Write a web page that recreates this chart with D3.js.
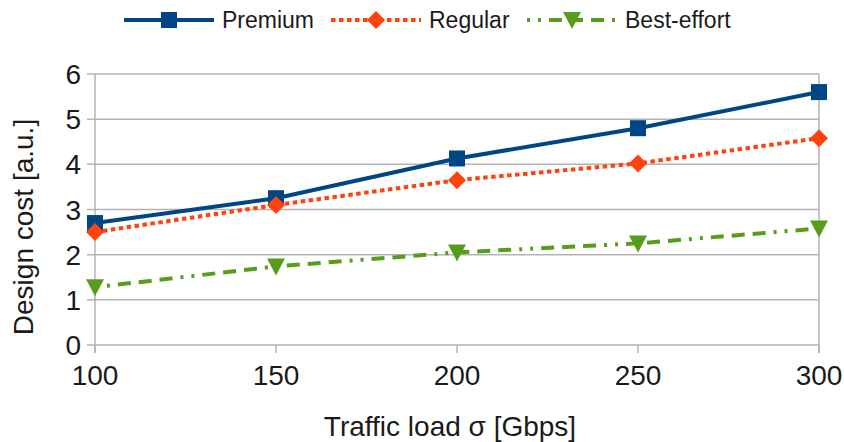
<!DOCTYPE html>
<html>
<head>
<meta charset="utf-8">
<script src="https://cdn.jsdelivr.net/npm/d3@7"></script>
<style>
  body { margin: 0; background: #fff; }
  svg text { font-family: "Liberation Sans", Arial, sans-serif; fill: #1a1a1a; }
</style>
</head>
<body>
<div id="chart"></div>
<script>
// data
const loads = [100, 150, 200, 250, 300];
const premium = [2.7, 3.25, 4.13, 4.8, 5.6];
const regular = [2.5, 3.1, 3.65, 4.02, 4.58];
const bestEffort = [1.28, 1.74, 2.05, 2.25, 2.58];
const yTicks = [0, 1, 2, 3, 4, 5, 6];

const series = [
  { name: "Premium", values: premium, color: "#004586", dash: null, offset: 0, marker: "square" },
  { name: "Regular", values: regular, color: "#ff420e", dash: "4.5,3.5", offset: 0, marker: "diamond" },
  { name: "Best-effort", values: bestEffort, color: "#579d1c", dash: "13,8,13,8,13,8,3,8,3,8", offset: 62, marker: "triangle" }
];

const width = 844, height = 442;
const margin = { top: 74, right: 25, bottom: 97, left: 95 };

const svg = d3.select("#chart").append("svg")
  .attr("width", width)
  .attr("height", height);

const x = d3.scaleLinear().domain([100, 300]).range([margin.left, width - margin.right]);
const y = d3.scaleLinear().domain([0, 6]).range([height - margin.bottom, margin.top]);

// grid
svg.append("g")
  .selectAll("line")
  .data(yTicks)
  .join("line")
  .attr("x1", x(100) - 8)
  .attr("x2", x(300))
  .attr("y1", d => y(d))
  .attr("y2", d => y(d))
  .attr("stroke", "#b3b3b3")
  .attr("stroke-width", 1.5);

// left and right frame lines
svg.append("line")
  .attr("x1", x(100)).attr("x2", x(100))
  .attr("y1", y(6)).attr("y2", y(0) + 8)
  .attr("stroke", "#b3b3b3").attr("stroke-width", 1.5);
svg.append("line")
  .attr("x1", x(300)).attr("x2", x(300))
  .attr("y1", y(6)).attr("y2", y(0) + 8)
  .attr("stroke", "#b3b3b3").attr("stroke-width", 1.5);

// x ticks
svg.append("g")
  .selectAll("line")
  .data(loads)
  .join("line")
  .attr("x1", d => x(d)).attr("x2", d => x(d))
  .attr("y1", y(0)).attr("y2", y(0) + 8)
  .attr("stroke", "#b3b3b3").attr("stroke-width", 1.5);

// tick labels
svg.append("g")
  .selectAll("text")
  .data(yTicks)
  .join("text")
  .attr("x", 81)
  .attr("y", d => y(d) + 10)
  .attr("text-anchor", "end")
  .attr("font-size", 28)
  .text(d => d);

svg.append("g")
  .selectAll("text")
  .data(loads)
  .join("text")
  .attr("x", d => x(d))
  .attr("y", y(0) + 40)
  .attr("text-anchor", "middle")
  .attr("font-size", 28)
  .text(d => d);

// axis titles
svg.append("text")
  .attr("x", 450)
  .attr("y", 436)
  .attr("text-anchor", "middle")
  .attr("font-size", 28)
  .text("Traffic load σ [Gbps]");

svg.append("text")
  .attr("transform", "translate(33,227) rotate(-90)")
  .attr("text-anchor", "middle")
  .attr("font-size", 28)
  .text("Design cost [a.u.]");

function markerPath(type) {
  if (type === "square") return "M-8,-8H8V8H-8Z";
  if (type === "diamond") return "M0,-9L9,0L0,9L-9,0Z";
  return "M-9,-8H9L0,9Z";
}

const line = d3.line()
  .x((d, i) => x(loads[i]))
  .y(d => y(d));

series.forEach(s => {
  svg.append("path")
    .datum(s.values)
    .attr("d", line)
    .attr("fill", "none")
    .attr("stroke", s.color)
    .attr("stroke-width", 4)
    .attr("stroke-dasharray", s.dash)
    .attr("stroke-dashoffset", s.offset);

  svg.append("g")
    .selectAll("path")
    .data(s.values)
    .join("path")
    .attr("transform", (d, i) => `translate(${x(loads[i])},${y(d)})`)
    .attr("d", markerPath(s.marker))
    .attr("fill", s.color);
});

// legend
const legendX = [124, 331, 527];
const legend = svg.append("g");
series.forEach((s, i) => {
  const g = legend.append("g").attr("transform", `translate(${legendX[i]},20)`);
  g.append("line")
    .attr("x1", 0).attr("x2", 90)
    .attr("stroke", s.color)
    .attr("stroke-width", 4)
    .attr("stroke-dasharray", s.dash)
    .attr("stroke-dashoffset", s.offset ? 63 : 0);
  g.append("path")
    .attr("transform", "translate(45,0)")
    .attr("d", markerPath(s.marker))
    .attr("fill", s.color);
  g.append("text")
    .attr("x", 98)
    .attr("y", 8)
    .attr("font-size", 23)
    .text(s.name);
});
</script>
</body>
</html>
